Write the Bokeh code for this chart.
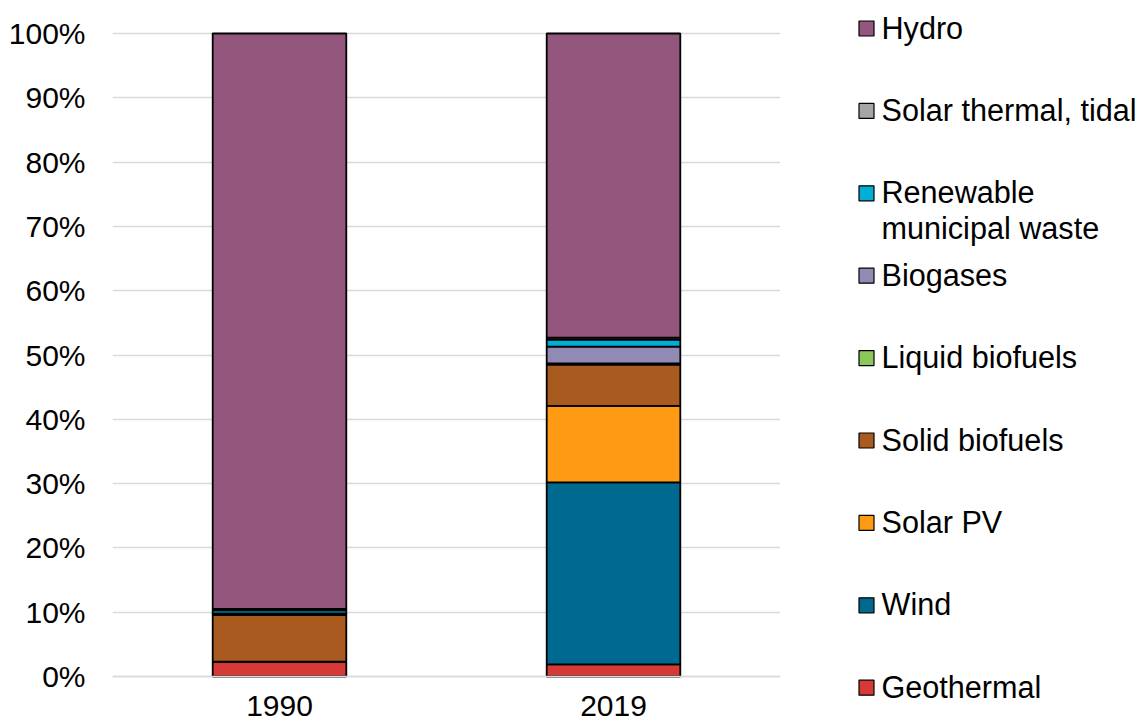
from bokeh.plotting import figure
from bokeh.layouts import row
from bokeh.models import Range1d, FactorRange, PrintfTickFormatter, FixedTicker, ColumnDataSource
from bokeh.core.properties import value
from bokeh.embed import file_html
from bokeh.resources import INLINE

# ---- data (share of renewable electricity, %) ----
years = ["1990", "2019"]
sources = ["Geothermal", "Wind", "Solar PV", "Solid biofuels", "Liquid biofuels",
           "Biogases", "Renewable municipal waste", "Solar thermal, tidal", "Hydro"]
geothermal = [2.3, 1.9]
wind = [0.0, 28.3]
solar_pv = [0.0, 11.9]
solid_biofuels = [7.3, 6.4]
liquid_biofuels = [0.0, 0.2]
biogases = [0.2, 2.6]
municipal_waste = [0.5, 1.1]
solar_thermal = [0.2, 0.3]
hydro = [89.5, 47.3]
colors = ["#d63a36", "#00698f", "#fe9a14", "#a85a1f", "#8bc85a",
          "#908ab4", "#00aed6", "#a5a5a5", "#93567d"]
legend_labels = ["Hydro", "Solar thermal, tidal", "Renewable\nmunicipal waste", "Biogases",
                 "Liquid biofuels", "Solid biofuels", "Solar PV", "Wind", "Geothermal"]
legend_colors = colors[::-1]
y_ticks = [0, 10, 20, 30, 40, 50, 60, 70, 80, 90, 100]

FONT = "Liberation Sans"
FS = "30px"
H = 725
TOP, BOTTOM = 33, 676          # pixel rows of 100% and 0%
px_per_unit = (BOTTOM - TOP) / 100.0

data = dict(year=years)
for name, vals in zip(sources, [geothermal, wind, solar_pv, solid_biofuels, liquid_biofuels,
                                biogases, municipal_waste, solar_thermal, hydro]):
    data[name] = vals
src = ColumnDataSource(data)

p = figure(x_range=FactorRange(*years, range_padding=0),
           y_range=Range1d(-(H - BOTTOM) / px_per_unit, 100 + TOP / px_per_unit),
           width=800, height=H, output_backend="svg", toolbar_location=None,
           min_border_left=112, min_border_right=20, min_border_top=0, min_border_bottom=0)
p.vbar_stack(sources, x="year", width=0.4, source=src, fill_color=colors,
             line_color="black", line_width=1.8)

p.outline_line_color = None
p.xgrid.grid_line_color = None
p.ygrid.grid_line_color = "#d9d9d9"
p.ygrid.grid_line_width = 1.5
p.yaxis.ticker = FixedTicker(ticks=y_ticks)
p.ygrid.ticker = FixedTicker(ticks=y_ticks)
p.yaxis.formatter = PrintfTickFormatter(format="%d%%")
p.yaxis.axis_line_color = None
p.yaxis.major_tick_line_color = None
p.yaxis.minor_tick_line_color = None
p.yaxis.major_tick_out = 0
p.yaxis.major_tick_in = 0
p.yaxis.major_label_standoff = 27
p.xaxis.fixed_location = 0
p.xaxis.axis_line_color = "#d9d9d9"
p.xaxis.axis_line_width = 1.5
p.xaxis.major_tick_line_color = None
p.xaxis.major_tick_out = 0
p.xaxis.major_tick_in = 0
p.xaxis.major_label_standoff = 19
for ax in (p.xaxis, p.yaxis):
    ax.major_label_text_font = FONT
    ax.major_label_text_font_size = FS
    ax.major_label_text_color = "black"

# ---- legend panel (coordinates are page pixels) ----
leg = figure(x_range=Range1d(800, 1140), y_range=Range1d(H, 0), width=340, height=H,
             output_backend="svg", toolbar_location=None,
             min_border_left=0, min_border_right=0, min_border_top=0, min_border_bottom=0)
leg.axis.visible = False
leg.grid.visible = False
leg.outline_line_color = None

item_y = [28 + i * 82.4 for i in range(len(legend_labels))]
leg.scatter(x=[866] * len(legend_labels), y=item_y, marker="square", size=15,
            fill_color=legend_colors, line_color="black", line_width=1.2)
tx, ty, tt = [], [], []
for lab, y in zip(legend_labels, item_y):
    for k, line in enumerate(lab.split("\n")):
        tx.append(881)
        ty.append(y - 1 + k * 36)
        tt.append(line)
leg.text(x=tx, y=ty, text=tt, text_font=value(FONT), text_font_size="30.6px",
         text_baseline="middle", text_align="left", text_color="black")

layout = row(p, leg, spacing=0)
open("out.html", "w").write(file_html(layout, INLINE))
